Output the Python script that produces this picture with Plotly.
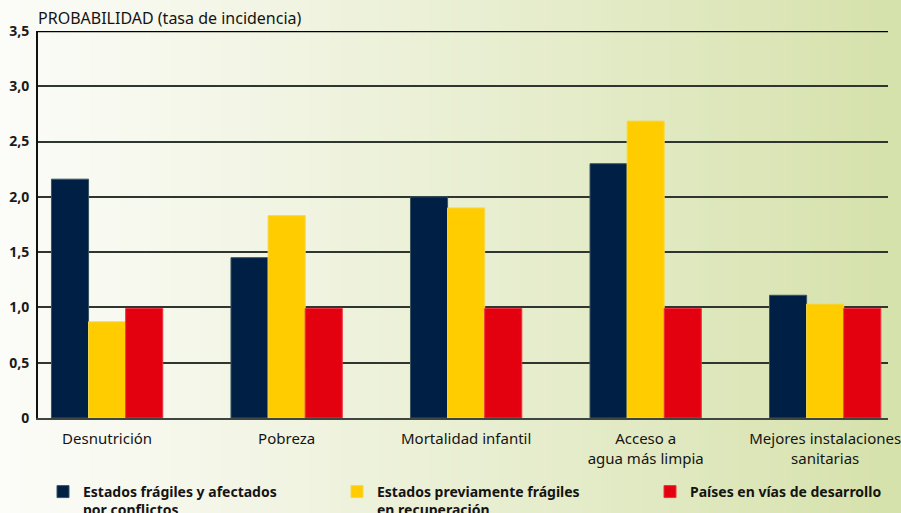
import plotly.graph_objects as go
import numpy as np

categories = ["Desnutrición", "Pobreza", "Mortalidad infantil",
              "Acceso a<br>agua más limpia", "Mejores instalaciones<br>sanitarias"]
series_names = ["Estados frágiles y afectados<br>por conflictos",
                "Estados previamente frágiles<br>en recuperación",
                "Países en vías de desarrollo"]
fragiles = [2.16, 1.45, 2.00, 2.30, 1.11]
recuperacion = [0.87, 1.83, 1.90, 2.685, 1.03]
desarrollo = [0.99, 0.99, 0.99, 0.99, 0.99]
tick_vals = [0, 0.5, 1.0, 1.5, 2.0, 2.5, 3.0, 3.5]
tick_text = ["0", "0,5", "1,0", "1,5", "2,0", "2,5", "3,0", "3,5"]

colors = ["#001F45", "#FFCC00", "#E3000F"]
edges = ["#3A5560", "#F5D84A", "#F03040"]
values = [fragiles, recuperacion, desarrollo]
legend_ids = ["legend", "legend2", "legend3"]

W, H = 901, 513
L, R, T, B = 38, 13, 31, 95
pw, ph = W - L - R, H - T - B

fig = go.Figure()
for name, vals, c, e, lg in zip(series_names, values, colors, edges, legend_ids):
    fig.add_trace(go.Bar(x=list(range(len(categories))), y=vals, name="<b>" + name + "</b>",
                         marker=dict(color=c, line=dict(color=e, width=1)),
                         legend=lg))

# gradient background via thin rectangles
n = 90
c0 = np.array([252, 252, 248])
c1 = np.array([214, 226, 172])
shapes = []
for i in range(n):
    px0 = i * W / n
    px1 = (i + 1) * W / n + 1
    t = i / (n - 1)
    col = c0 + (c1 - c0) * (t ** 1.1)
    shapes.append(dict(type="rect", xref="paper", yref="paper",
                       x0=(px0 - L) / pw, x1=(px1 - L) / pw,
                       y0=-(B + 5) / ph, y1=(ph + T + 5) / ph,
                       fillcolor="rgb(%d,%d,%d)" % tuple(col), line=dict(width=0),
                       layer="below"))
# top line at 3.5
shapes.append(dict(type="line", xref="paper", yref="y", x0=0, x1=1, y0=3.5, y1=3.5,
                   line=dict(color="#000000", width=2.5), layer="above"))

fig.update_layout(
    width=W, height=H,
    margin=dict(l=L, r=R, t=T, b=B, autoexpand=False),
    paper_bgcolor="rgba(0,0,0,0)", plot_bgcolor="rgba(0,0,0,0)",
    barmode="group", bargap=0.38, bargroupgap=0,
    font=dict(family="Noto Sans", color="#1a1a1a", size=14),
    shapes=shapes,
    xaxis=dict(tickmode="array", tickvals=list(range(len(categories))), ticktext=categories,
               range=[-0.385, 4.35], showgrid=False, ticks="", showline=True,
               linecolor="#3f4540", linewidth=2, tickfont=dict(size=15, color="#141414"),
               ticklabelstandoff=6, ticklabeloverflow="allow", zeroline=False,
               fixedrange=True, automargin=False),
    yaxis=dict(range=[0, 3.5], tickvals=tick_vals, ticktext=["<b>%s</b>" % t for t in tick_text],
               showgrid=True, gridcolor="#2f352f", gridwidth=2, showline=True,
               linecolor="#111111", linewidth=2, ticks="", ticklabelstandoff=4,
               tickfont=dict(size=14, color="#1a1a1a"), zeroline=False, fixedrange=True,
               automargin=False),
    annotations=[dict(text="PROBABILIDAD (tasa de incidencia)", xref="paper", yref="paper",
                      x=0, y=1, yshift=0, xshift=-2, xanchor="left", yanchor="bottom",
                      showarrow=False, font=dict(size=16, color="#141414"))],
    showlegend=True,
)
legend_px = [43, 337, 650]
for lg, px in zip(legend_ids, legend_px):
    fig.update_layout({lg: dict(xref="container", yref="container", x=px / W, y=1 - 476 / H,
                                xanchor="left", yanchor="top", bgcolor="rgba(0,0,0,0)",
                                font=dict(size=14, color="#141414"), valign="top",
                                orientation="h")})

fig.write_html("out.html", config={"displayModeBar": False, "staticPlot": True},
               post_script="document.body.style.margin='0';document.body.style.overflow='hidden';")
